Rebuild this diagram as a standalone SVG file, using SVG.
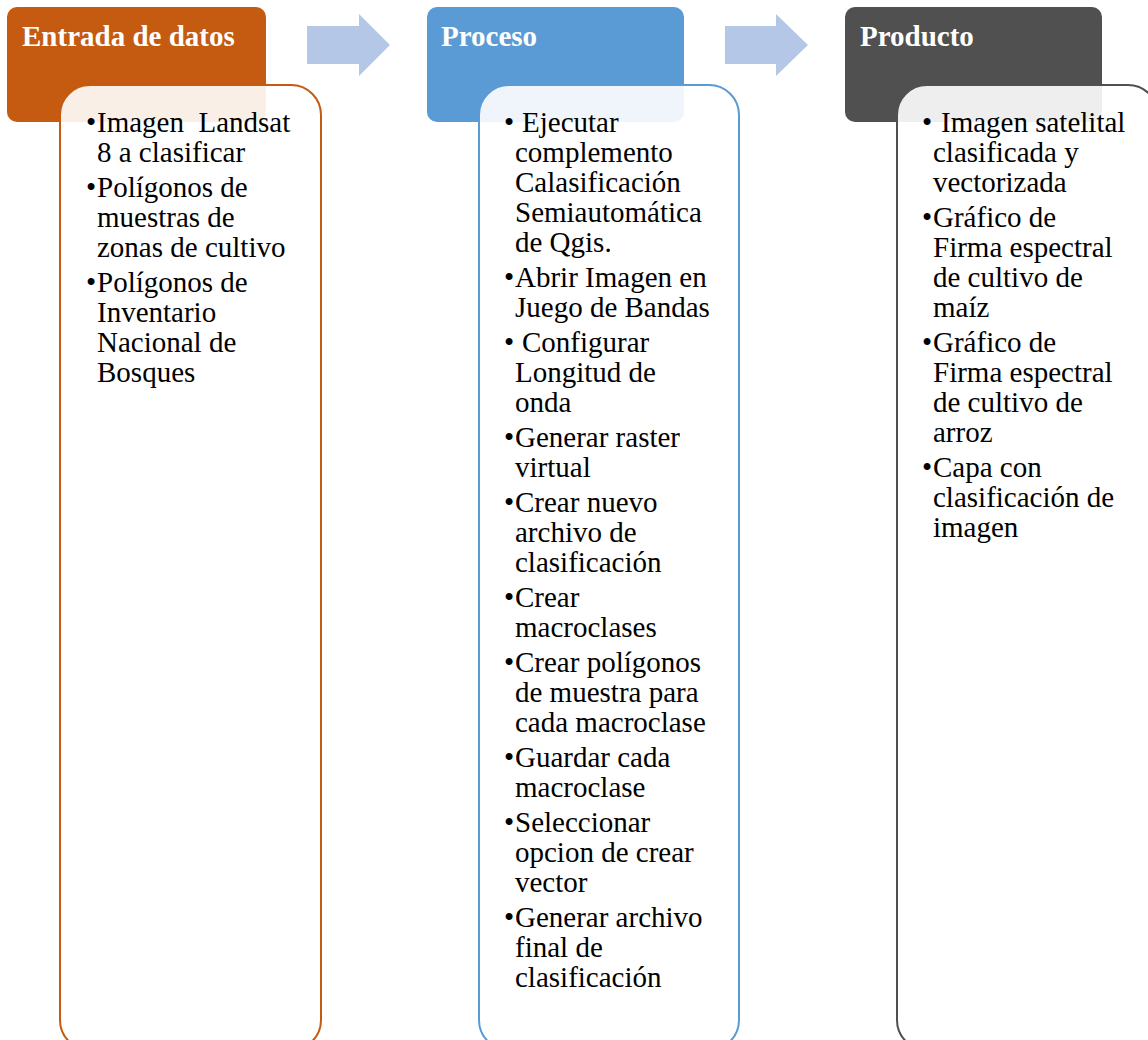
<svg xmlns="http://www.w3.org/2000/svg" width="1148" height="1040" viewBox="0 0 1148 1040">
<style>
.body{fill:#ffffff;fill-opacity:0.9;stroke-width:2}
.arrow{fill:#B4C7E7}
</style>
<rect width="1148" height="1040" fill="#ffffff"/>
<g id="connectors">
<polygon class="arrow" points="307,26 359,26 359,14 390,45 359,76 359,64 307,64"/>
<polygon class="arrow" points="725,26 776,26 776,14 808,45 776,76 776,64 725,64"/>
</g>
<g id="node-entrada">
<rect x="7" y="7" width="259" height="115" rx="10" fill="#C55A11"/>
<rect class="body" x="60" y="85" width="261" height="965" rx="30" stroke="#C55A11"/>
<text x="22" y="46" font-family="Liberation Serif" font-size="29" font-weight="bold" fill="#ffffff">Entrada de datos</text>
<text x="86" y="132" font-family="Liberation Serif" font-size="29">•</text>
<text x="97" y="132" font-family="Liberation Serif" font-size="29" xml:space="preserve">Imagen  Landsat</text>
<text x="97" y="162" font-family="Liberation Serif" font-size="29">8 a clasificar</text>
<text x="86" y="197" font-family="Liberation Serif" font-size="29">•</text>
<text x="97" y="197" font-family="Liberation Serif" font-size="29">Polígonos de</text>
<text x="97" y="227" font-family="Liberation Serif" font-size="29">muestras de</text>
<text x="97" y="257" font-family="Liberation Serif" font-size="29">zonas de cultivo</text>
<text x="86" y="292" font-family="Liberation Serif" font-size="29">•</text>
<text x="97" y="292" font-family="Liberation Serif" font-size="29">Polígonos de</text>
<text x="97" y="322" font-family="Liberation Serif" font-size="29">Inventario</text>
<text x="97" y="352" font-family="Liberation Serif" font-size="29">Nacional de</text>
<text x="97" y="382" font-family="Liberation Serif" font-size="29">Bosques</text>
</g>
<g id="node-proceso">
<rect x="427" y="7" width="257" height="115" rx="10" fill="#5B9BD5"/>
<rect class="body" x="479" y="85" width="260" height="965" rx="30" stroke="#5B9BD5"/>
<text x="441" y="46" font-family="Liberation Serif" font-size="29" font-weight="bold" fill="#ffffff">Proceso</text>
<text x="504" y="132" font-family="Liberation Serif" font-size="29">•</text>
<text x="522" y="132" font-family="Liberation Serif" font-size="29">Ejecutar</text>
<text x="515" y="162" font-family="Liberation Serif" font-size="29">complemento</text>
<text x="515" y="192" font-family="Liberation Serif" font-size="29">Calasificación</text>
<text x="515" y="222" font-family="Liberation Serif" font-size="29">Semiautomática</text>
<text x="515" y="252" font-family="Liberation Serif" font-size="29">de Qgis.</text>
<text x="504" y="287" font-family="Liberation Serif" font-size="29">•</text>
<text x="515" y="287" font-family="Liberation Serif" font-size="29">Abrir Imagen en</text>
<text x="515" y="317" font-family="Liberation Serif" font-size="29">Juego de Bandas</text>
<text x="504" y="352" font-family="Liberation Serif" font-size="29">•</text>
<text x="522" y="352" font-family="Liberation Serif" font-size="29">Configurar</text>
<text x="515" y="382" font-family="Liberation Serif" font-size="29">Longitud de</text>
<text x="515" y="412" font-family="Liberation Serif" font-size="29">onda</text>
<text x="504" y="447" font-family="Liberation Serif" font-size="29">•</text>
<text x="515" y="447" font-family="Liberation Serif" font-size="29">Generar raster</text>
<text x="515" y="477" font-family="Liberation Serif" font-size="29">virtual</text>
<text x="504" y="512" font-family="Liberation Serif" font-size="29">•</text>
<text x="515" y="512" font-family="Liberation Serif" font-size="29">Crear nuevo</text>
<text x="515" y="542" font-family="Liberation Serif" font-size="29">archivo de</text>
<text x="515" y="572" font-family="Liberation Serif" font-size="29">clasificación</text>
<text x="504" y="607" font-family="Liberation Serif" font-size="29">•</text>
<text x="515" y="607" font-family="Liberation Serif" font-size="29">Crear</text>
<text x="515" y="637" font-family="Liberation Serif" font-size="29">macroclases</text>
<text x="504" y="672" font-family="Liberation Serif" font-size="29">•</text>
<text x="515" y="672" font-family="Liberation Serif" font-size="29">Crear polígonos</text>
<text x="515" y="702" font-family="Liberation Serif" font-size="29">de muestra para</text>
<text x="515" y="732" font-family="Liberation Serif" font-size="29">cada macroclase</text>
<text x="504" y="767" font-family="Liberation Serif" font-size="29">•</text>
<text x="515" y="767" font-family="Liberation Serif" font-size="29">Guardar cada</text>
<text x="515" y="797" font-family="Liberation Serif" font-size="29">macroclase</text>
<text x="504" y="832" font-family="Liberation Serif" font-size="29">•</text>
<text x="515" y="832" font-family="Liberation Serif" font-size="29">Seleccionar</text>
<text x="515" y="862" font-family="Liberation Serif" font-size="29">opcion de crear</text>
<text x="515" y="892" font-family="Liberation Serif" font-size="29">vector</text>
<text x="504" y="927" font-family="Liberation Serif" font-size="29">•</text>
<text x="515" y="927" font-family="Liberation Serif" font-size="29">Generar archivo</text>
<text x="515" y="957" font-family="Liberation Serif" font-size="29">final de</text>
<text x="515" y="987" font-family="Liberation Serif" font-size="29">clasificación</text>
</g>
<g id="node-producto">
<rect x="845" y="7" width="257" height="115" rx="10" fill="#505050"/>
<rect class="body" x="897" y="85" width="261" height="965" rx="30" stroke="#505050"/>
<text x="860" y="46" font-family="Liberation Serif" font-size="29" font-weight="bold" fill="#ffffff">Producto</text>
<text x="922" y="132" font-family="Liberation Serif" font-size="29">•</text>
<text x="941" y="132" font-family="Liberation Serif" font-size="29">Imagen satelital</text>
<text x="933" y="162" font-family="Liberation Serif" font-size="29">clasificada y</text>
<text x="933" y="192" font-family="Liberation Serif" font-size="29">vectorizada</text>
<text x="922" y="227" font-family="Liberation Serif" font-size="29">•</text>
<text x="933" y="227" font-family="Liberation Serif" font-size="29">Gráfico de</text>
<text x="933" y="257" font-family="Liberation Serif" font-size="29">Firma espectral</text>
<text x="933" y="287" font-family="Liberation Serif" font-size="29">de cultivo de</text>
<text x="933" y="317" font-family="Liberation Serif" font-size="29">maíz</text>
<text x="922" y="352" font-family="Liberation Serif" font-size="29">•</text>
<text x="933" y="352" font-family="Liberation Serif" font-size="29">Gráfico de</text>
<text x="933" y="382" font-family="Liberation Serif" font-size="29">Firma espectral</text>
<text x="933" y="412" font-family="Liberation Serif" font-size="29">de cultivo de</text>
<text x="933" y="442" font-family="Liberation Serif" font-size="29">arroz</text>
<text x="922" y="477" font-family="Liberation Serif" font-size="29">•</text>
<text x="933" y="477" font-family="Liberation Serif" font-size="29">Capa con</text>
<text x="933" y="507" font-family="Liberation Serif" font-size="29">clasificación de</text>
<text x="933" y="537" font-family="Liberation Serif" font-size="29">imagen</text>
</g>
</svg>
